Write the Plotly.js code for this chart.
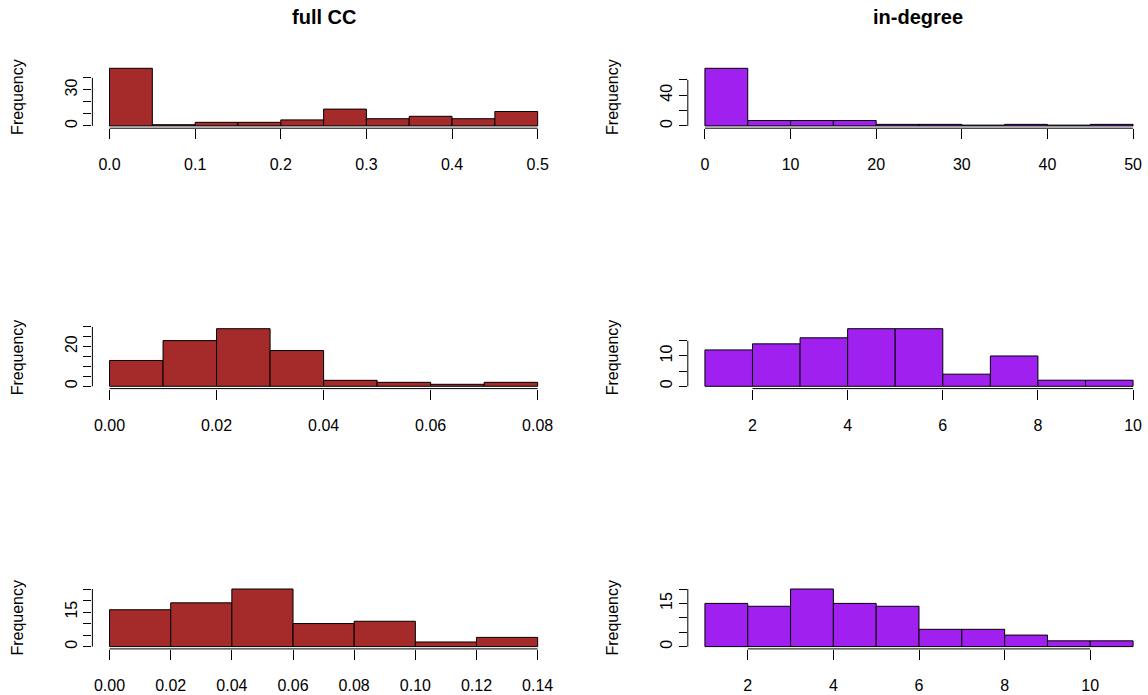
<!DOCTYPE html>
<html><head><meta charset="utf-8">
<script src="https://cdn.plot.ly/plotly-3.0.1.min.js"></script>
<style>html,body{margin:0;padding:0;background:#fff}#chart{width:1148px;height:695px}</style>
</head><body><div id="chart"></div>
<script>
// ---- data (bin edges, counts, tick values / labels) ----
const fullCCEdgesA = [0,0.05,0.1,0.15,0.2,0.25,0.3,0.35,0.4,0.45,0.5];
const fullCCCountsA = [48,1,3,3,5,14,6,8,6,12];
const fullCCXTicksA = [0,0.1,0.2,0.3,0.4,0.5];
const fullCCXTextA = ['0.0','0.1','0.2','0.3','0.4','0.5'];
const fullCCYTicksA = [0,10,20,30,40];
const fullCCYTextA = ['0','','','30',''];

const inDegEdgesA = [0,5,10,15,20,25,30,35,40,45,50];
const inDegCountsA = [75,7,7,7,2,2,1,2,1,2];
const inDegXTicksA = [0,10,20,30,40,50];
const inDegXTextA = ['0','10','20','30','40','50'];
const inDegYTicksA = [0,20,40,60];
const inDegYTextA = ['0','','40',''];

const fullCCEdgesB = [0,0.01,0.02,0.03,0.04,0.05,0.06,0.07,0.08];
const fullCCCountsB = [13,23,29,18,3,2,1,2];
const fullCCXTicksB = [0,0.02,0.04,0.06,0.08];
const fullCCXTextB = ['0.00','0.02','0.04','0.06','0.08'];
const fullCCYTicksB = [0,5,10,15,20,25,30];
const fullCCYTextB = ['0','','','','20','',''];

const inDegEdgesB = [1,2,3,4,5,6,7,8,9,10];
const inDegCountsB = [12,14,16,19,19,4,10,2,2];
const inDegXTicksB = [2,4,6,8,10];
const inDegXTextB = ['2','4','6','8','10'];
const inDegYTicksB = [0,5,10,15];
const inDegYTextB = ['0','','10',''];

const fullCCEdgesC = [0,0.02,0.04,0.06,0.08,0.10,0.12,0.14];
const fullCCCountsC = [16,19,25,10,11,2,4];
const fullCCXTicksC = [0,0.02,0.04,0.06,0.08,0.10,0.12,0.14];
const fullCCXTextC = ['0.00','0.02','0.04','0.06','0.08','0.10','0.12','0.14'];
const fullCCYTicksC = [0,5,10,15,20,25];
const fullCCYTextC = ['0','','','15','',''];

const inDegEdgesC = [1,2,3,4,5,6,7,8,9,10,11];
const inDegCountsC = [15,14,20,15,14,6,6,4,2,2];
const inDegXTicksC = [2,4,6,8,10];
const inDegXTextC = ['2','4','6','8','10'];
const inDegYTicksC = [0,5,10,15,20];
const inDegYTextC = ['0','','','15',''];

const columnTitles = ['full CC','in-degree'];
const yLabel = 'Frequency';

// ---- styling / layout ----
const BROWN = '#A52A2A', PURPLE = '#A020F0';
const FONT = 'Liberation Sans, Arial, sans-serif';
const W = 1148, H = 695;
const colLeft = [92.4, 687.8], regionW = 462.4;
const rowTop = [66, 326.4, 586.7], regionH = 62.2;

const panels = [
  {e:fullCCEdgesA,c:fullCCCountsA,xt:fullCCXTicksA,xs:fullCCXTextA,yt:fullCCYTicksA,ys:fullCCYTextA,col:0,row:0,color:BROWN},
  {e:inDegEdgesA,c:inDegCountsA,xt:inDegXTicksA,xs:inDegXTextA,yt:inDegYTicksA,ys:inDegYTextA,col:1,row:0,color:PURPLE},
  {e:fullCCEdgesB,c:fullCCCountsB,xt:fullCCXTicksB,xs:fullCCXTextB,yt:fullCCYTicksB,ys:fullCCYTextB,col:0,row:1,color:BROWN},
  {e:inDegEdgesB,c:inDegCountsB,xt:inDegXTicksB,xs:inDegXTextB,yt:inDegYTicksB,ys:inDegYTextB,col:1,row:1,color:PURPLE},
  {e:fullCCEdgesC,c:fullCCCountsC,xt:fullCCXTicksC,xs:fullCCXTextC,yt:fullCCYTicksC,ys:fullCCYTextC,col:0,row:2,color:BROWN},
  {e:inDegEdgesC,c:inDegCountsC,xt:inDegXTicksC,xs:inDegXTextC,yt:inDegYTicksC,ys:inDegYTextC,col:1,row:2,color:PURPLE}
];

const data = [];
const layout = {
  width: W, height: H, margin: {l:0,r:0,t:0,b:0},
  paper_bgcolor: '#fff', plot_bgcolor: '#fff', showlegend: false,
  font: {family: FONT, color: '#000'},
  shapes: [], annotations: []
};

panels.forEach((p, i) => {
  const n = i + 1, sx = n === 1 ? '' : String(n);
  const xid = 'x' + sx, yid = 'y' + sx;
  const centers = [], widths = [];
  for (let k = 0; k < p.c.length; k++) {
    centers.push((p.e[k] + p.e[k+1]) / 2);
    widths.push(p.e[k+1] - p.e[k]);
  }
  data.push({
    type: 'bar', x: centers, y: p.c, width: widths,
    xaxis: xid, yaxis: yid, hoverinfo: 'skip',
    marker: {color: p.color, line: {color: '#000', width: 1}}
  });
  const lo = p.e[0], hi = p.e[p.e.length - 1], span = hi - lo;
  const r0 = lo - 0.04 * span, fullR = 1.08 * span;
  const leftPx = colLeft[p.col];
  const rightPx = Math.min(W, leftPx + regionW);
  const r1 = r0 + (rightPx - leftPx) / regionW * fullR;
  const M = Math.max(...p.c);
  const top = rowTop[p.row];
  layout['xaxis' + sx] = {
    domain: [leftPx / W, rightPx / W], range: [r0, r1], anchor: yid,
    tickmode: 'array', tickvals: p.xt, ticktext: p.xs,
    ticks: 'outside', ticklen: 10, tickwidth: 1, tickcolor: '#000',
    showline: false, showgrid: false, zeroline: false, fixedrange: true,
    ticklabelstandoff: 12,
    tickfont: {family: FONT, size: 16, color: '#000'}
  };
  layout['yaxis' + sx] = {
    domain: [1 - (top + regionH) / H, 1 - top / H], range: [-0.04 * M, 1.04 * M], anchor: xid,
    tickmode: 'array', tickvals: p.yt, ticktext: p.ys, tickangle: -90,
    ticks: 'outside', ticklen: 8, tickwidth: 1, tickcolor: '#000',
    showline: false, showgrid: false, zeroline: false, fixedrange: true,
    ticklabelstandoff: 0,
    tickfont: {family: FONT, size: 16, color: '#000'},
    title: {text: yLabel, font: {family: FONT, size: 16, color: '#000'}, standoff: 35}
  };
  layout.shapes.push({type:'line', xref: xid, yref: yid + ' domain',
    x0: p.xt[0], x1: p.xt[p.xt.length-1], y0: 0, y1: 0, line: {color:'#000', width:1}});
  layout.shapes.push({type:'line', xref: xid + ' domain', yref: yid,
    x0: 0, x1: 0, y0: p.yt[0], y1: p.yt[p.yt.length-1], line: {color:'#000', width:1}});
  if (p.row === 0) {
    layout.annotations.push({text: '<b>' + columnTitles[p.col] + '</b>', showarrow: false,
      xref: xid + ' domain', x: 0.5, yref: yid + ' domain', y: 1, yanchor: 'bottom', yshift: 36,
      font: {family: FONT, size: 20, color: '#000'}});
  }
});

Plotly.newPlot('chart', data, layout, {displayModeBar: false, staticPlot: true});
</script></body></html>
